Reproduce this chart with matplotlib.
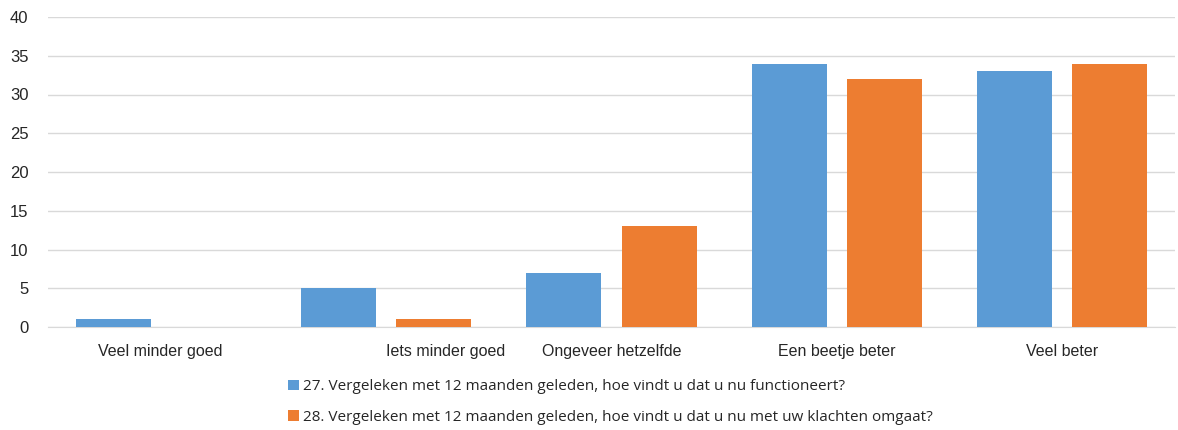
import matplotlib
matplotlib.use("Agg")
import matplotlib.pyplot as plt
import numpy as np

categories = ["Veel minder goed", "Iets minder goed", "Ongeveer hetzelfde",
              "Een beetje beter", "Veel beter"]
q27_values = [1, 5, 7, 34, 33]
q28_values = [0, 1, 13, 32, 34]
q27_label = "27. Vergeleken met 12 maanden geleden, hoe vindt u dat u nu functioneert?"
q28_label = "28. Vergeleken met 12 maanden geleden, hoe vindt u dat u nu met uw klachten omgaat?"
y_ticks = [0, 5, 10, 15, 20, 25, 30, 35, 40]

BLUE = "#5B9BD5"
ORANGE = "#ED7D31"

fig = plt.figure(figsize=(11.78, 4.30), dpi=100)
ax = fig.add_axes([48 / 1178, 1 - 327 / 430, (1175 - 48) / 1178, 310 / 430])

x = np.arange(len(categories))
width = 0.333
offset = 0.211
b1 = ax.bar(x - offset, q27_values, width, color=BLUE, label=q27_label, zorder=3)
b2 = ax.bar(x + offset, q28_values, width, color=ORANGE, label=q28_label, zorder=3)

ax.set_xlim(-0.5, len(categories) - 0.5)
ax.set_ylim(0, 40)
ax.set_yticks(y_ticks)
ax.yaxis.grid(True, color="#D9D9D9", linewidth=1, zorder=0)
ax.set_axisbelow(True)
for side in ["top", "right", "left"]:
    ax.spines[side].set_visible(False)
ax.spines["bottom"].set_color("#D9D9D9")
ax.tick_params(axis="both", length=0, labelcolor="#262626",
               labelfontfamily="Liberation Sans")
ax.tick_params(axis="y", pad=14, labelsize=12)
ax.tick_params(axis="x", pad=12, labelsize=11.5)
ax.set_xticks(x)
ax.set_xticklabels(categories)
# second label is left-aligned at the category centre in the original
ax.get_xticklabels()[1].set_horizontalalignment("left")

fig.legend(handles=[b1, b2], loc="center left", bbox_to_anchor=(274 / 1178, 1 - 402 / 430),
           frameon=False, handlelength=0.72, handleheight=0.72, handletextpad=0.3,
           labelspacing=1.0, prop={"family": "Open Sans", "size": 11},
           labelcolor="#262626")

fig.savefig("out.png", dpi=100)
